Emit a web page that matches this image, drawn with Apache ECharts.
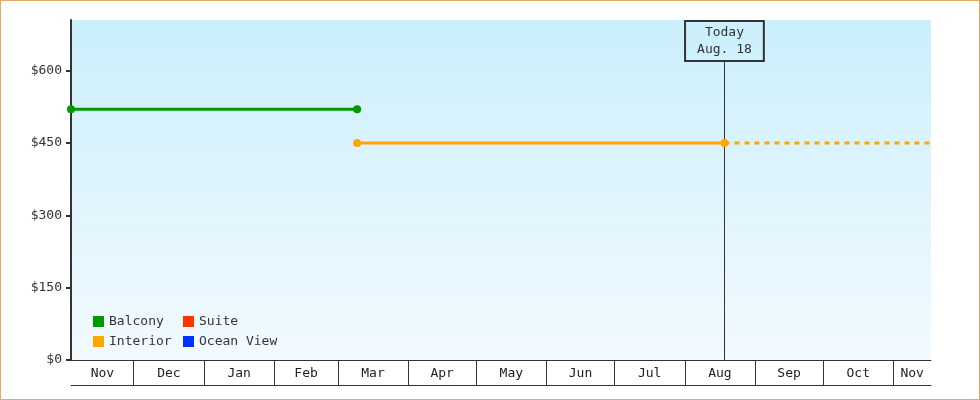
<!DOCTYPE html>
<html>
<head>
<meta charset="utf-8">
<script src="https://cdn.jsdelivr.net/npm/echarts@6/dist/echarts.min.js"></script>
<style>
  html, body { margin: 0; padding: 0; background: #fff; }
  #wrap { position: relative; width: 980px; height: 400px; }
  #chart { position: absolute; left: 0; top: 0; width: 980px; height: 400px; }
  #frame { position: absolute; left: 0; top: 0; width: 980px; height: 400px; box-sizing: border-box; border: 1px solid #E8A860; pointer-events: none; }
</style>
</head>
<body>
<div id="wrap"><div id="chart"></div><div id="frame"></div></div>
<script>
// ---- data ----
const axisStart = '2022-11-03T08:00';
const axisEnd = '2023-11-17T14:00';
const todayDate = '2023-08-18T12:00';
const todayText = ['Today', 'Aug. 18'];
const monthNames = ['Jan','Feb','Mar','Apr','May','Jun','Jul','Aug','Sep','Oct','Nov','Dec'];
const balconyDates = ['2022-11-03T08:00', '2023-03-09T12:00'];
const balconyPrices = [520, 520];
const interiorDates = ['2023-03-09T12:00', '2023-08-18T12:00'];
const interiorPrices = [450, 450];
const interiorForecastDates = ['2023-08-18T12:00', '2023-11-17T14:00'];
const interiorForecastPrices = [450, 450];
const yTicks = [0, 150, 300, 450, 600];
const yMax = 705;
const seriesNames = ['Balcony', 'Suite', 'Interior', 'Ocean View'];
const seriesColors = { 'Balcony': '#009900', 'Suite': '#FF3300', 'Interior': '#FFA500', 'Ocean View': '#0033FF' };

// ---- helpers ----
const EPOCH = Date.UTC(2022, 10, 1);
function day(s) {
  const d = new Date(s + (s.length > 10 ? ':00Z' : 'T00:00:00Z'));
  return (d.getTime() - EPOCH) / 86400000;
}
const xMin = day(axisStart), xMax = day(axisEnd);

// month boundaries and label positions
const boundaries = [];
const labelVals = [];
const labelMap = {};
{
  let y = 2022, m = 10;
  while (true) {
    const s = Date.UTC(y, m, 1), e = Date.UTC(y, m + 1, 1);
    const ds = (s - EPOCH) / 86400000, de = (e - EPOCH) / 86400000;
    if (ds > xMax) break;
    const a = Math.max(ds, xMin), b = Math.min(de, xMax);
    if (b > a) {
      const mid = (a + b) / 2;
      labelVals.push(mid);
      labelMap[mid.toFixed(4)] = monthNames[m];
    }
    if (ds > xMin && ds < xMax) boundaries.push(ds);
    m++; if (m > 11) { m = 0; y++; }
  }
}

const pair = (ds, vs) => ds.map((d, i) => [day(d), vs[i]]);
const FONT = 'DejaVu Sans Mono';
const todayX = day(todayDate);

const legendBase = {
  orient: 'vertical', top: 315, padding: 0,
  itemWidth: 11, itemHeight: 11, itemGap: 7, icon: 'rect',
  textStyle: { fontFamily: FONT, fontSize: 13, color: '#333' },
  selectedMode: false
};

const chart = echarts.init(document.getElementById('chart'), null, { renderer: 'canvas' });
chart.setOption({
  animation: false,
  backgroundColor: '#fff',
  textStyle: { fontFamily: FONT },
  grid: {
    left: 71, right: 49, top: 20, bottom: 40, show: true, borderWidth: 0,
    backgroundColor: new echarts.graphic.LinearGradient(0, 0, 0, 1, [
      { offset: 0, color: '#CBEFFC' },
      { offset: 1, color: '#F2FAFF' }
    ])
  },
  legend: [
    Object.assign({}, legendBase, { data: ['Balcony', 'Interior'], left: 93 }),
    Object.assign({}, legendBase, { data: ['Suite', 'Ocean View'], left: 183 })
  ],
  xAxis: [
    {
      type: 'value', min: xMin, max: xMax, position: 'bottom',
      splitLine: { show: false },
      axisLine: { show: true, onZero: false, lineStyle: { color: '#333', width: 1 } },
      axisTick: { show: true, customValues: boundaries, length: 25, inside: false, lineStyle: { color: '#333', width: 1 } },
      axisLabel: {
        customValues: labelVals, margin: 7, color: '#222', fontFamily: FONT, fontSize: 13,
        formatter: v => labelMap[Number(v).toFixed(4)] || ''
      }
    },
    {
      type: 'value', min: xMin, max: xMax, position: 'bottom', offset: 25,
      splitLine: { show: false },
      axisLine: { show: true, onZero: false, lineStyle: { color: '#333', width: 1 } },
      axisTick: { show: false }, axisLabel: { show: false }
    }
  ],
  yAxis: {
    type: 'value', min: 0, max: yMax,
    splitLine: { show: false },
    axisLine: { show: true, lineStyle: { color: '#333', width: 2 } },
    axisTick: { show: true, customValues: yTicks, length: 5, lineStyle: { color: '#333', width: 2 } },
    axisLabel: { customValues: yTicks, margin: 9, color: '#333', fontFamily: FONT, fontSize: 13, formatter: v => '$' + v }
  },
  series: [
    {
      name: 'Balcony', type: 'line', data: pair(balconyDates, balconyPrices),
      color: seriesColors['Balcony'], symbol: 'circle', symbolSize: 8, showSymbol: true,
      lineStyle: { width: 3 }, clip: false, z: 3
    },
    {
      name: 'Suite', type: 'line', data: [], color: seriesColors['Suite']
    },
    {
      name: 'Interior', type: 'line', data: pair(interiorForecastDates, interiorForecastPrices),
      color: seriesColors['Interior'], symbol: 'none', showSymbol: false,
      lineStyle: { width: 3, type: [5, 5], cap: 'butt' }, z: 2
    },
    {
      name: 'Interior', type: 'line', data: pair(interiorDates, interiorPrices),
      color: seriesColors['Interior'], symbol: 'circle', symbolSize: 8, showSymbol: true,
      lineStyle: { width: 3 }, z: 4,
      markLine: {
        silent: true, symbol: ['none', 'none'], z: 1,
        lineStyle: { color: '#333', width: 1, type: 'solid' },
        label: {
          show: true, position: 'end', distance: 0,
          formatter: todayText.join('\n'),
          fontFamily: FONT, fontSize: 13, lineHeight: 17, color: '#333',
          borderColor: '#333', borderWidth: 1, padding: [3, 12, 3, 12],
          backgroundColor: 'transparent', align: 'center'
        },
        data: [[{ coord: [todayX, 0] }, { coord: [todayX, 620] }]]
      }
    },
    {
      name: 'Ocean View', type: 'line', data: [], color: seriesColors['Ocean View']
    }
  ]
});
</script>
</body>
</html>
